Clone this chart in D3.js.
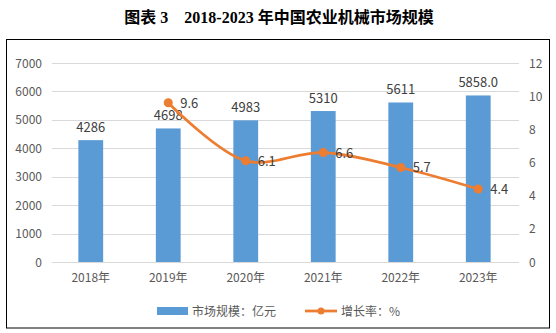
<!DOCTYPE html>
<html><head><meta charset="utf-8">
<script src="https://cdn.jsdelivr.net/npm/d3@7"></script>
<style>
body{margin:0;background:#fff;}
svg{display:block;}
</style></head>
<body>
<script>
const years = ["2018年","2019年","2020年","2021年","2022年","2023年"];
const marketSize = [4286,4698,4983,5310,5611,5858.0];
const marketLabels = ["4286","4698","4983","5310","5611","5858.0"];
const growthYears = ["2019年","2020年","2021年","2022年","2023年"];
const growthRate = [9.6,6.1,6.6,5.7,4.4];
const leftTicks = [0,1000,2000,3000,4000,5000,6000,7000];
const rightTicks = [0,2,4,6,8,10,12];
const title = "图表 3\u00a0\u00a0\u00a0\u00a02018-2023 年中国农业机械市场规模";
const legendLabels = ["市场规模：亿元","增长率：%"];

const W=556,H=333;
const svg=d3.select("body").append("svg").attr("width",W).attr("height",H);
const font="'Noto Sans CJK SC','Noto Sans',sans-serif";
const txt="#595959", blue="#5B9BD5", orange="#ED7D31";

svg.append("text").attr("x",279).attr("y",23).attr("text-anchor","middle")
  .attr("font-family","'Liberation Serif','Noto Sans CJK SC',serif").attr("font-weight","bold")
  .attr("font-size",16).attr("fill","#000").text(title);

svg.append("rect").attr("x",6.5).attr("y",39.5).attr("width",543).attr("height",288.5)
  .attr("fill","none").attr("stroke","#000").attr("stroke-width",1);

const x=d3.scaleBand().domain(years).range([52,517]);
const yL=d3.scaleLinear().domain([0,7000]).range([262,63]);
const yR=d3.scaleLinear().domain([0,12]).range([262,63]);

// gridlines
svg.append("g").selectAll("line").data(leftTicks).join("line")
  .attr("x1",52).attr("x2",519).attr("y1",d=>Math.round(yL(d))+0.5).attr("y2",d=>Math.round(yL(d))+0.5)
  .attr("stroke","#D9D9D9").attr("stroke-width",1);

// left axis labels
svg.append("g").selectAll("text").data(leftTicks).join("text")
  .attr("x",42).attr("y",d=>yL(d)+4.5).attr("text-anchor","end")
  .attr("font-family",font).attr("font-size",12).attr("fill",txt).text(d=>d);
// right axis labels
svg.append("g").selectAll("text").data(rightTicks).join("text")
  .attr("x",529).attr("y",d=>yR(d)+4.5).attr("text-anchor","start")
  .attr("font-family",font).attr("font-size",12).attr("fill",txt).text(d=>d);

// x labels
svg.append("g").selectAll("text").data(years).join("text")
  .attr("x",d=>x(d)+x.bandwidth()/2).attr("y",282).attr("text-anchor","middle")
  .attr("font-family",font).attr("font-size",12).attr("fill",txt).text(d=>d);

// bars
const bw=x.bandwidth()*0.32;
svg.append("g").selectAll("rect").data(years).join("rect")
  .attr("x",(d)=>x(d)+x.bandwidth()/2-bw/2).attr("width",bw)
  .attr("y",(d,i)=>yL(marketSize[i])).attr("height",(d,i)=>yL(0)-yL(marketSize[i]))
  .attr("fill",blue);
svg.append("g").selectAll("text").data(years).join("text")
  .attr("x",d=>x(d)+x.bandwidth()/2).attr("y",(d,i)=>yL(marketSize[i])-8)
  .attr("text-anchor","middle").attr("font-family",font).attr("font-size",13).attr("fill","#404040")
  .text((d,i)=>marketLabels[i]);

// line
const pts=growthYears.map((d,i)=>[x(d)+x.bandwidth()/2,yR(growthRate[i])]);
svg.append("path").attr("d",d3.line().curve(d3.curveCatmullRom.alpha(0.5))(pts))
  .attr("fill","none").attr("stroke",orange).attr("stroke-width",2.75).attr("stroke-linecap","round");
svg.append("g").selectAll("circle").data(pts).join("circle")
  .attr("cx",d=>d[0]).attr("cy",d=>d[1]).attr("r",4.5).attr("fill",orange);
svg.append("g").selectAll("text").data(pts).join("text")
  .attr("x",d=>d[0]+12).attr("y",d=>d[1]+5).attr("font-family",font).attr("font-size",13).attr("fill","#404040")
  .text((d,i)=>growthRate[i].toFixed(1));

// legend
svg.append("rect").attr("x",157).attr("y",307).attr("width",31).attr("height",8).attr("fill",blue);
svg.append("text").attr("x",192).attr("y",316).attr("font-family",font).attr("font-size",12).attr("fill",txt).text(legendLabels[0]);
svg.append("line").attr("x1",305).attr("x2",337).attr("y1",311).attr("y2",311).attr("stroke",orange).attr("stroke-width",2.75);
svg.append("circle").attr("cx",321).attr("cy",311).attr("r",3.5).attr("fill",orange);
svg.append("text").attr("x",341).attr("y",316).attr("font-family",font).attr("font-size",12).attr("fill",txt).text(legendLabels[1]);
</script>
</body></html>
